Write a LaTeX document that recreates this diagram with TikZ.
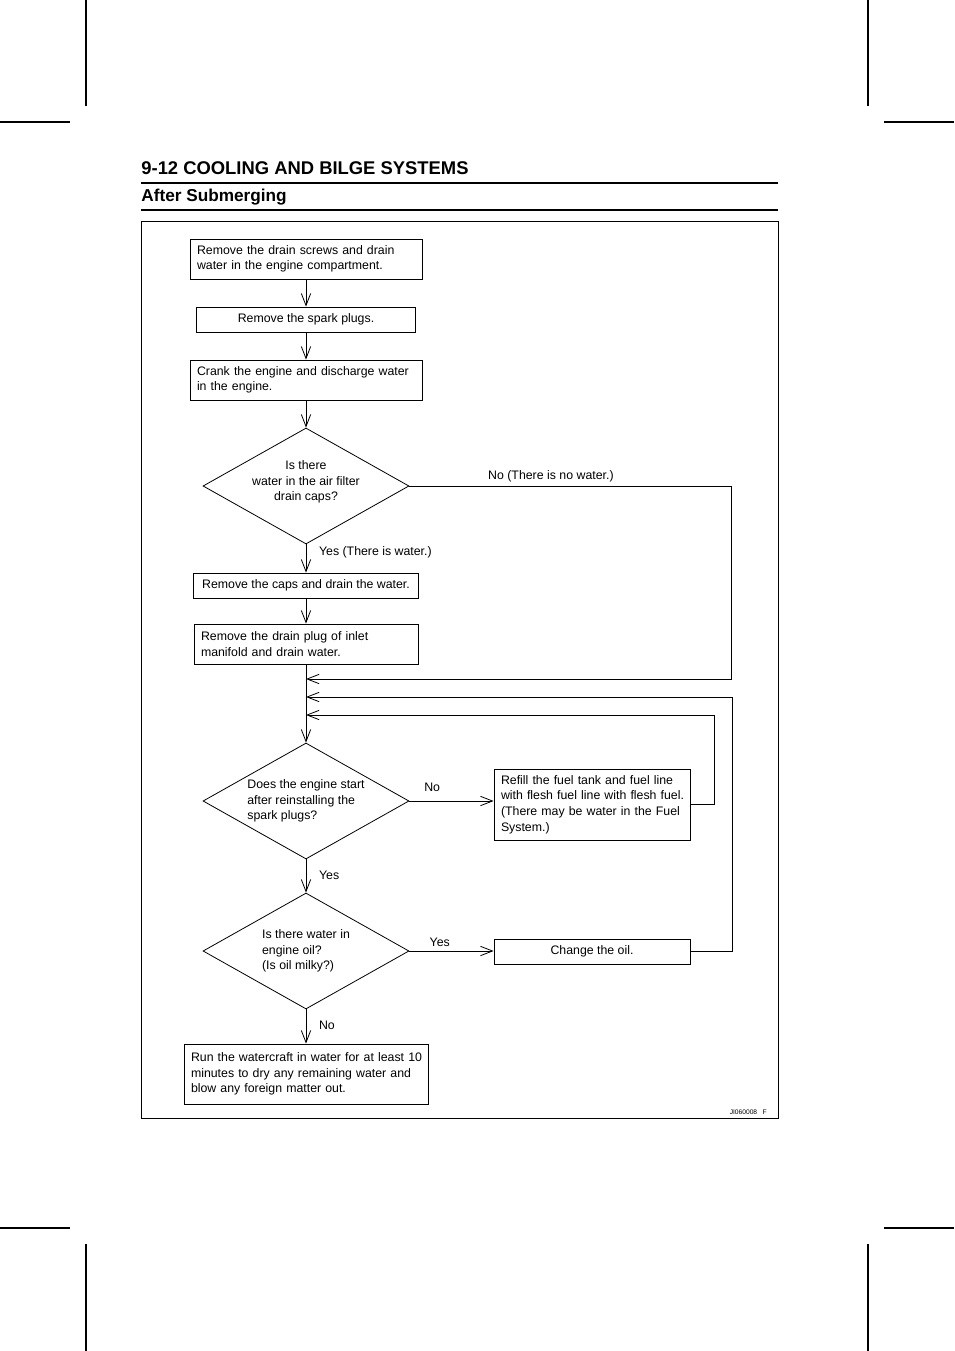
\documentclass[tikz,border=0pt]{standalone}
\usepackage{fontspec}
\setmainfont{Liberation Sans}
\usetikzlibrary{arrows.meta,shapes.geometric,positioning}
\newcommand{\boxfont}{\fontsize{9.25}{11.7}\selectfont}
\tikzset{
  procbox/.style={draw, rectangle, inner xsep=5.25pt, inner ysep=0pt,
    align=left, font=\boxfont},
  askbox/.style={draw, diamond, aspect=1.776, inner sep=0pt,
    minimum width=154.5pt, minimum height=87pt, font=\boxfont},
  answer/.style={font=\boxfont, inner sep=1pt},
  cropmark/.style={line width=1pt}
}
\begin{document}
\begin{tikzpicture} [x=0.75pt,y=-0.75pt,->,>={Straight Barb[length=9pt,width=7pt]},%
line width=0.6pt]
\useasboundingbox (0,0) rectangle (954,1351);
% page: crop marks, heading, frame
\begin{scope}[-]
\draw[cropmark] (86,0) -- (86,106) (0,122) -- (70,122);
\draw[cropmark] (868,0) -- (868,106) (884,122) -- (954,122);
\draw[cropmark] (0,1228) -- (70,1228) (86,1244) -- (86,1351);
\draw[cropmark] (884,1228) -- (954,1228) (868,1244) -- (868,1351);
\node[anchor=base west, inner sep=0pt, font=\bfseries\fontsize{13.8}{16}\selectfont]
  (title) at (141,175) {9-12 COOLING AND BILGE SYSTEMS};
\node[anchor=base west, inner sep=0pt, font=\bfseries\fontsize{12.9}{15}\selectfont]
  (subtitle) at (141,202) {After Submerging};
\draw[line width=0.8pt] (141,183) -- (778,183) (141,210) -- (778,210);
\draw (141,221) rectangle (778,1118);
\node[anchor=base east, inner sep=0pt, font=\fontsize{5}{6}\selectfont]
  (figcode) at (767,1114) {JI060008\hspace{4pt}F};
\end{scope}

\node[procbox, minimum width=174pt, minimum height=30pt, text width=163.5pt]
  (b1) at (306,259) {Remove the drain screws and drain\\water in the engine compartment.};
\node[procbox, align=center, minimum width=164.25pt, minimum height=18.75pt]
  (b2) at (306,319.5) {Remove the spark plugs.};
\node[procbox, minimum width=174pt, minimum height=30pt, text width=163.5pt]
  (b3) at (306,380) {\makebox[163.5pt][s]{Crank the engine and discharge water}\\in the engine.};
\node[askbox, align=center] (d1) at (306,486) {Is there\\water in the air filter\\drain caps?\\[-4pt]\mbox{}};
\node[procbox, align=center, minimum width=168.75pt, minimum height=18.75pt]
  (b4) at (306,585.5) {Remove the caps and drain the water.};
\node[procbox, minimum width=168pt, minimum height=30pt, text width=157.5pt]
  (b5) at (306,644) {Remove the drain plug of inlet\\manifold and drain water.};
\node[askbox, align=left] (d2) at (306,801) {Does the engine start\\after reinstalling the\\spark plugs?};
\node[procbox, minimum width=147pt, minimum height=53.25pt, text width=136.5pt]
  (refill) at (592,804.5) {Refill the fuel tank and fuel line\\\mbox{with flesh fuel line with flesh fuel.}\\(There may be water in the Fuel\\System.)};
\node[askbox, align=left] (d3) at (306,951) {Is there water in\\engine oil?\\(Is oil milky?)};
\node[procbox, align=center, minimum width=147pt, minimum height=18.75pt]
  (oil) at (592,951.5) {Change the oil.};
\node[procbox, minimum width=183pt, minimum height=45pt, text width=172.5pt]
  (fin) at (306,1074) {\mbox{Run the watercraft in water for at least 10}\\minutes to dry any remaining water and\\blow any foreign matter out.};

\coordinate (c1) at (731,679);  \coordinate (j1) at (306,679);
\coordinate (c2) at (732,697);  \coordinate (j2) at (306,697);
\coordinate (c3) at (714,715);  \coordinate (j3) at (306,715);

\path (b1) edge (b2)
      (b2) edge (b3)
      (b3) edge (d1)
      (d1) edge node[answer, pos=.28, right, xshift=8.5pt] {Yes (There is water.)} (b4)
      (b4) edge (b5)
      (b5) edge (d2)
      (d2.east) edge node[answer, pos=.27, above=6pt] {No} (d2.east -| refill.west)
      (d2) edge node[answer, pos=.47, right, xshift=8.5pt] {Yes} (d3)
      (d3.east) edge node[answer, pos=.36, above=2pt] {Yes} (d3.east -| oil.west)
      (d3) edge node[answer, pos=.47, right, xshift=8.5pt] {No} (fin);

\draw (d1.east) -| node[answer, pos=.22, above=2pt] {No (There is no water.)} (c1) -- (j1);
\draw (oil.east) -| (c2) -- (j2);
\draw (refill.east) -| (c3) -- (j3);
\end{tikzpicture}
\end{document}
